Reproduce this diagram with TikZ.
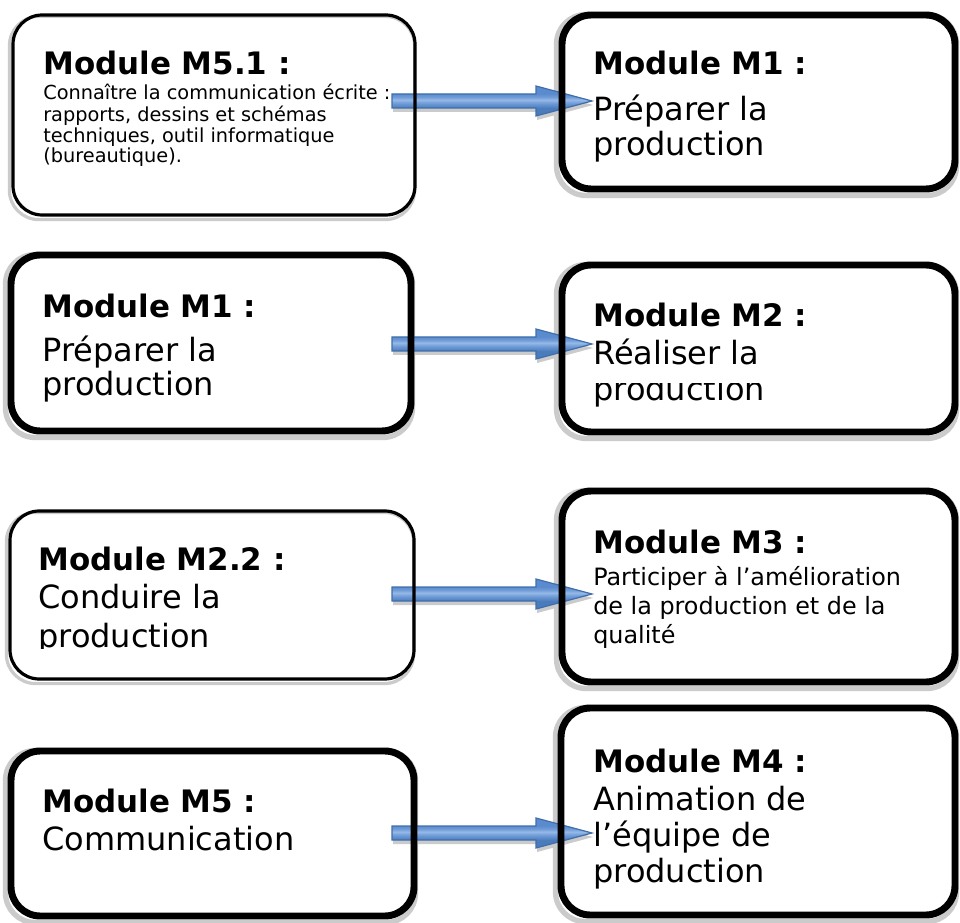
\documentclass[tikz,border=0pt]{standalone}
\usepackage{fontspec}
\setmainfont{DejaVu Sans}
\usetikzlibrary{calc,fit}

\pgfdeclarelayer{shade}
\pgfdeclarelayer{arrows}
\pgfsetlayers{shade,arrows,main}

\definecolor{arrowdark}{HTML}{4A7BBB}
\definecolor{arrowmid}{HTML}{6E9AD6}
\definecolor{arrowlight}{HTML}{95B9E7}
\definecolor{arrowtop}{HTML}{5B8BCF}
\definecolor{arrowedge}{HTML}{3F6EAB}
\definecolor{shadowgray}{HTML}{CBCBCB}

% vertical gradient of the block arrows (path box maps to 25bp..75bp)
\pgfdeclareverticalshading{arrowshade}{100bp}{%
  color(0bp)=(arrowdark); color(38bp)=(arrowdark); color(46bp)=(arrowmid);
  color(52bp)=(arrowlight); color(57bp)=(arrowmid); color(62bp)=(arrowtop);
  color(100bp)=(arrowtop)}

\newcommand\ttlfont{\fontsize{23.2pt}{27pt}\selectfont\bfseries}
\newcommand\bodyfont[1]{\fontsize{24pt}{#1}\selectfont}
\newcommand\stack[1]{\begin{tabular}[t]{@{}l@{}}#1\end{tabular}}

% outline of a horizontal block arrow from #1 to #2
\newcommand\arrowoutline[2]{%
  ($(#1)+(0,-7)$) -- ($(#2)+(-56,-7)$) -- ($(#2)+(-56,-15)$) -- (#2)
  -- ($(#2)+(-56,15)$) -- ($(#2)+(-56,7)$) -- ($(#1)+(0,7)$) -- cycle}

\newcommand\blockarrow[2]{%
  \begin{pgfonlayer}{shade}
    \fill[shadowgray, transform canvas={shift={(0.8pt,-3pt)}}] \arrowoutline{#1}{#2};
  \end{pgfonlayer}
  \begin{pgfonlayer}{arrows}
    \path[shading=arrowshade, draw=arrowedge, line width=0.9pt, line join=miter] \arrowoutline{#1}{#2};
  \end{pgfonlayer}}

\tikzset{
  modbox/.style={draw=black, line width=5.2pt, rounded corners=22pt, inner sep=0pt},
  thinbox/.style={modbox, line width=2.4pt},
  txt/.style={inner sep=0pt, anchor=base west},
}

% light grey offset outline behind each box
\newcommand\boxshadow[2]{%
  \begin{pgfonlayer}{shade}
    \draw[shadowgray, line width=#2, rounded corners=22pt]
      ($(#1.south west)+(-2,3)$) rectangle ($(#1.north east)+(-2,3)$);
  \end{pgfonlayer}}

\begin{document}
\begin{tikzpicture}[x=0.75pt,y=-0.75pt]
\useasboundingbox (0,0) rectangle (960,923);

% ---- boxes ----
\node[thinbox, fit={(13,15) (415,215)}] (b1) {};
\node[modbox,  fit={(562,15) (955,189)}] (b2) {};
\node[modbox,  fit={(11,255) (411,431)}] (b3) {};
\node[modbox,  fit={(562,265) (955,432)}] (b4) {};
\node[thinbox, fit={(10,511) (414,679)}] (b5) {};
\node[modbox,  fit={(562,491) (955,682)}] (b6) {};
\node[modbox,  fit={(11,751) (414,916)}] (b7) {};
\node[modbox,  fit={(561,708) (955,915)}] (b8) {};

\boxshadow{b1}{2.4pt}
\foreach \b in {b2,b3,b4,b6,b7,b8} {\boxshadow{\b}{4pt}}
\boxshadow{b5}{2.4pt}

% ---- texts ----
\node[txt] (t1) at (43,75) {\ttlfont Module M5.1 :};
\node[txt] (d1) at (43,100) {\fontsize{14.5pt}{15pt}\selectfont
  \stack{Connaître la communication écrite :\\rapports, dessins et schémas\\techniques, outil informatique\\(bureautique).}};

\node[txt] (t2) at (593,75) {\ttlfont Module M1 :};
\node[txt] (d2) at (593,121) {\bodyfont{24.5pt}\stack{Préparer la\\production}};

\node[txt] (t3) at (42,318) {\ttlfont Module M1 :};
\node[txt] (d3) at (42,362) {\bodyfont{23.5pt}\stack{Préparer la\\production}};

\node[txt] (t4) at (593,327) {\ttlfont Module M2 :};
\node[txt] (d4) at (593,365) {\bodyfont{26pt}Réaliser la};
\begin{scope}
  \clip (570,384) rectangle (950,420);
  \node[txt] (d4b) at (593,401) {\bodyfont{26pt}production};
\end{scope}

\node[txt] (t5) at (38,570) {\ttlfont Module M2.2 :};
\node[txt] (d5) at (38,608) {\bodyfont{26pt}Conduire la};
\begin{scope}
  \clip (20,615) rectangle (405,648);
  \node[txt] (d5b) at (38,647) {\bodyfont{26pt}production};
\end{scope}

\node[txt] (t6) at (593,553) {\ttlfont Module M3 :};
\node[txt] (d6) at (593,585) {\fontsize{17.9pt}{21.75pt}\selectfont
  \stack{Participer à l’amélioration\\de la production et de la\\qualité}};

\node[txt] (t7) at (42,812) {\ttlfont Module M5 :};
\node[txt] (d7) at (42,850) {\bodyfont{26pt}Communication};

\node[txt] (t8) at (593,772) {\ttlfont Module M4 :};
\node[txt] (d8) at (593,810) {\bodyfont{27pt}\stack{Animation de\\l’équipe de\\production}};

% ---- block arrows ----
\coordinate (a1s) at (392,101); \coordinate (a1e) at (592,101);
\coordinate (a2s) at (392,344); \coordinate (a2e) at (592,344);
\coordinate (a3s) at (392,594); \coordinate (a3e) at (592,594);
\coordinate (a4s) at (392,833); \coordinate (a4e) at (592,833);
\blockarrow{a1s}{a1e}
\blockarrow{a2s}{a2e}
\blockarrow{a3s}{a3e}
\blockarrow{a4s}{a4e}
\end{tikzpicture}
\end{document}
